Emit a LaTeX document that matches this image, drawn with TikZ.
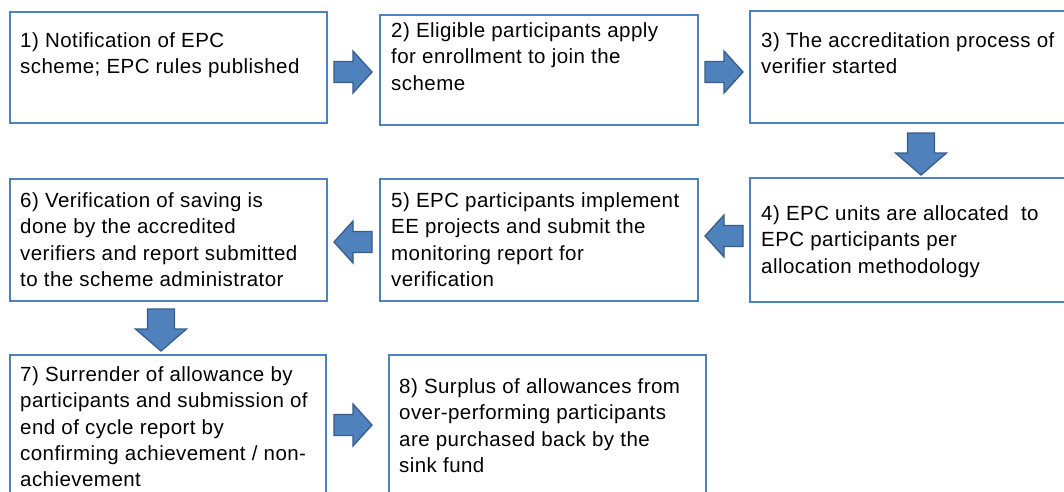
\documentclass[tikz,border=0pt]{standalone}
\usepackage{fontspec}
\setmainfont{Liberation Sans}[LetterSpace=2.2]
\begin{document}
\begin{tikzpicture}[x=1pt,y=-1pt,
  boxline/.style={draw={rgb,255:red,79;green,129;blue,189},line width=2pt},
  txt/.style={anchor=north west,inner sep=0pt,align=left,font=\fontsize{20.5}{26.3}\selectfont},
  arrstyle/.style={fill={rgb,255:red,79;green,129;blue,189},draw={rgb,255:red,56;green,93;blue,138},line width=1.3pt,line join=miter},
  harr/.pic={\path[arrstyle] (-19,-10.5) -- (0,-10.5) -- (0,-21) -- (19,0) -- (0,21) -- (0,10.5) -- (-19,10.5) -- cycle;},
  varr/.pic={\path[arrstyle] (-13.5,-21) -- (13.5,-21) -- (13.5,-1) -- (25.5,-1) -- (0,21) -- (-25.5,-1) -- (-13.5,-1) -- cycle;}
]
\useasboundingbox (0,0) rectangle (1064,491);
\clip (0,0) rectangle (1064,491);
\fill[white] (0,0) rectangle (1064,491);
% boxes
\node[boxline,inner sep=0pt,minimum width=317pt,minimum height=111pt,anchor=north west] (b1) at (9,11) {};
\node[boxline,inner sep=0pt,minimum width=318pt,minimum height=110pt,anchor=north west] (b2) at (379,14) {};
\node[boxline,inner sep=0pt,minimum width=326pt,minimum height=112pt,anchor=north west] (b3) at (749,10) {};
\node[boxline,inner sep=0pt,minimum width=326pt,minimum height=124pt,anchor=north west] (b4) at (749,177) {};
\node[boxline,inner sep=0pt,minimum width=318pt,minimum height=122pt,anchor=north west] (b5) at (379,178) {};
\node[boxline,inner sep=0pt,minimum width=317pt,minimum height=122pt,anchor=north west] (b6) at (9,178) {};
\node[boxline,inner sep=0pt,minimum width=316pt,minimum height=146pt,anchor=north west] (b7) at (9,354) {};
\node[boxline,inner sep=0pt,minimum width=317pt,minimum height=146pt,anchor=north west] (b8) at (388,354) {};
% texts
\node[txt] (t1) at (20,32.5) {1) Notification of EPC\\scheme; EPC rules published};
\node[txt] (t2) at (391,22.5) {2) Eligible participants apply\\for enrollment to join the\\scheme};
\node[txt] (t3) at (761,32.5) {3) The accreditation process of\\verifier started};
\node[txt] (t4) at (761,205.5) {4) EPC units are allocated\ \ to\\EPC participants per\\allocation methodology};
\node[txt] (t5) at (391,192.5) {5) EPC participants implement\\EE projects and submit the\\monitoring report for\\verification};
\node[txt] (t6) at (20,192.5) {6) Verification of saving is\\done by the accredited\\verifiers and report submitted\\to the scheme administrator};
\node[txt] (t7) at (20,366.5) {7) Surrender of allowance by\\participants and submission of\\end of cycle report by\\confirming achievement / non-\\achievement};
\node[txt] (t8) at (399,378.5) {8) Surplus of allowances from\\over-performing participants\\are purchased back by the\\sink fund};
% block arrows
\path (353,72) pic (a12) {harr};
\path (724,72) pic (a23) {harr};
\path (921,154) pic (a34) {varr};
\path (724,236) pic[rotate=180] (a45) {harr};
\path (353,242) pic[rotate=180] (a56) {harr};
\path (161,330) pic (a67) {varr};
\path (353,425) pic (a78) {harr};
\end{tikzpicture}
\end{document}
